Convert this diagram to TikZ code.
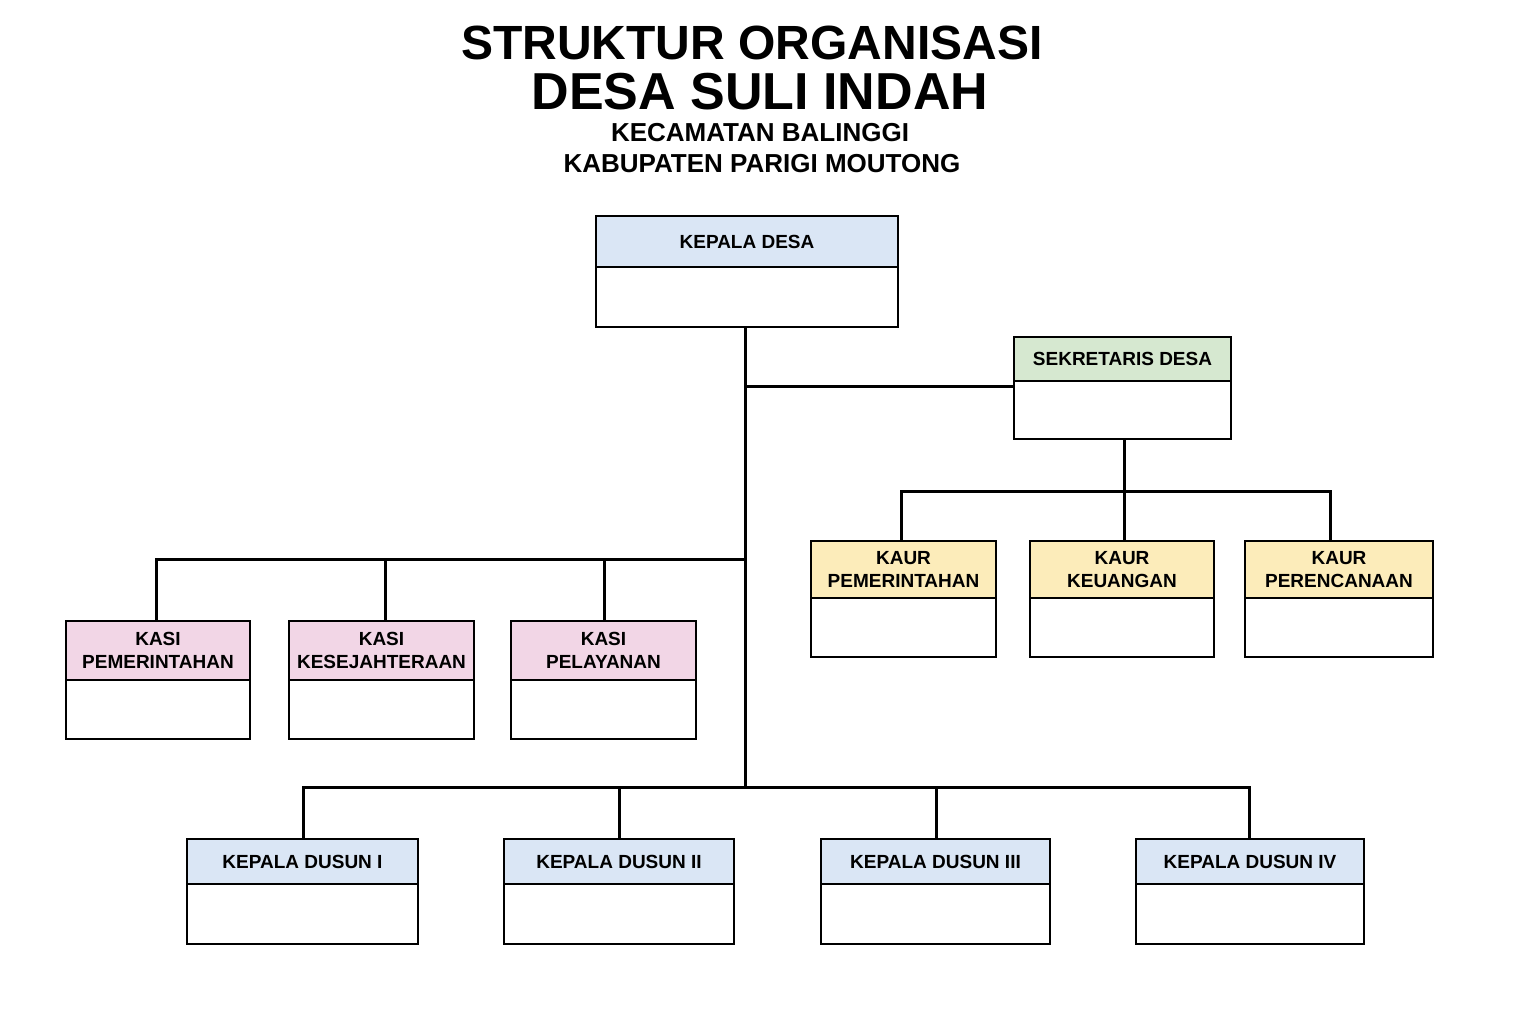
\documentclass[tikz,border=0pt]{standalone}
\usepackage{fontspec}
\setmainfont{Liberation Sans}
\usepackage{tikz}

\definecolor{hdblue}{RGB}{218,230,245}
\definecolor{hdgreen}{RGB}{214,232,208}
\definecolor{hdyellow}{RGB}{252,236,186}
\definecolor{hdpink}{RGB}{242,214,230}

\tikzset{
  boxline/.style={line width=1.2pt},
  linkline/.style={line width=1.5pt},
  boxtext/.style={font=\bfseries\fontsize{9.5}{11.5}\selectfont,align=center,inner sep=0pt}
}

% name, x1, y1, x2, y2, divider, colour, text
\newcommand{\orgbox}[8]{%
  \fill[#7] (#2,#3) rectangle (#4,#6);
  \draw[boxline] (#2,#3) rectangle (#4,#5);
  \draw[boxline] (#2,#6) -- (#4,#6);
  \node[boxtext] (#1) at ({(#2+#4)/2},{(#3+#6)/2}) {#8};
}

\begin{document}
\begin{tikzpicture}[x=0.5pt,y=0.5pt,yscale=-1,xscale=1]
\useasboundingbox[fill=white] (0,0) rectangle (1536,1024);

%Title
\node[font=\bfseries\fontsize{24}{26}\selectfont] (t1) at (752,43) {STRUKTUR ORGANISASI};
\node[font=\bfseries\fontsize{26}{28}\selectfont] (t2) at (760,92) {DESA SULI INDAH};
\node[font=\bfseries\fontsize{13}{15}\selectfont] (t3) at (760,133) {KECAMATAN BALINGGI};
\node[font=\bfseries\fontsize{13}{15}\selectfont] (t4) at (762,164) {KABUPATEN PARIGI MOUTONG};

%Boxes
\orgbox{kades}{596}{216}{898}{327}{267}{hdblue}{KEPALA DESA}
\orgbox{sekdes}{1014}{337}{1231}{439}{381}{hdgreen}{SEKRETARIS DESA}
\orgbox{kaur1}{811}{541}{996}{657}{598}{hdyellow}{KAUR\\PEMERINTAHAN}
\orgbox{kaur2}{1030}{541}{1214}{657}{598}{hdyellow}{KAUR\\KEUANGAN}
\orgbox{kaur3}{1245}{541}{1433}{657}{598}{hdyellow}{KAUR\\PERENCANAAN}
\orgbox{kasi1}{66}{621}{250}{739}{680}{hdpink}{KASI\\PEMERINTAHAN}
\orgbox{kasi2}{289}{621}{474}{739}{680}{hdpink}{KASI\\KESEJAHTERAAN}
\orgbox{kasi3}{511}{621}{696}{739}{680}{hdpink}{KASI\\PELAYANAN}
\orgbox{dusun1}{187}{839}{418}{944}{884}{hdblue}{KEPALA DUSUN I}
\orgbox{dusun2}{504}{839}{734}{944}{884}{hdblue}{KEPALA DUSUN II}
\orgbox{dusun3}{821}{839}{1050}{944}{884}{hdblue}{KEPALA DUSUN III}
\orgbox{dusun4}{1136}{839}{1364}{944}{884}{hdblue}{KEPALA DUSUN IV}

%Connector ends on the boxes
\coordinate (kades-bot) at (745,327);
\coordinate (sekdes-left) at (1014,386);
\coordinate (sekdes-bot) at (1124,439);
\coordinate (kaur1-top) at (901,541);
\coordinate (kaur2-top) at (1124,541);
\coordinate (kaur3-top) at (1330,541);
\coordinate (kasi1-top) at (156,621);
\coordinate (kasi2-top) at (385,621);
\coordinate (kasi3-top) at (604,621);
\coordinate (dusun1-top) at (303,839);
\coordinate (dusun2-top) at (619,839);
\coordinate (dusun3-top) at (936,839);
\coordinate (dusun4-top) at (1249,839);

%Junctions
\coordinate (jsek) at (745,386);
\coordinate (jkasi) at (745,559);
\coordinate (jdusun) at (745,787);
\coordinate (jkaur) at (1124,491);

%Lines
\draw[linkline] (kades-bot) -- (jdusun);
\draw[linkline] (jsek) -- (sekdes-left);
\draw[linkline] (sekdes-bot) -- (kaur2-top);
\draw[linkline] (kaur1-top) |- (jkaur) -| (kaur3-top);
\draw[linkline] (kasi1-top) |- (jkasi);
\draw[linkline] (kasi2-top) -- (kasi2-top |- jkasi);
\draw[linkline] (kasi3-top) -- (kasi3-top |- jkasi);
\draw[linkline] (dusun1-top) |- (jdusun) -| (dusun4-top);
\draw[linkline] (dusun2-top) -- (dusun2-top |- jdusun);
\draw[linkline] (dusun3-top) -- (dusun3-top |- jdusun);

\end{tikzpicture}
\end{document}
